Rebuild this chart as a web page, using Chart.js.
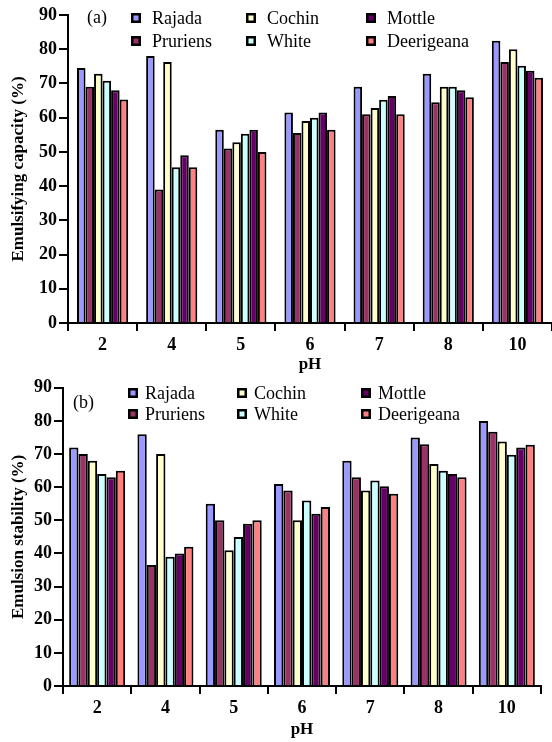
<!DOCTYPE html>
<html>
<head>
<meta charset="utf-8">
<script src="https://cdn.jsdelivr.net/npm/chart.js@4"></script>
<style>
  body { margin: 0; background: #fff; }
  .box { position: relative; width: 552px; }
  canvas { display: block; }
</style>
</head>
<body>
<div class="box"><canvas id="chartA" width="552" height="375"></canvas></div>
<div class="box"><canvas id="chartB" width="552" height="367"></canvas></div>
<script>
const phLabels = ['2', '4', '5', '6', '7', '8', '10'];
const varieties = ['Rajada', 'Pruriens', 'Cochin', 'White', 'Mottle', 'Deerigeana'];
const colors = ['#9999ff', '#993366', '#ffffcc', '#ccffff', '#660066', '#ff8080'];

// (a) emulsifying capacity (%)
const capRajada     = [74.5, 78, 56.5, 61.5, 69, 72.8, 82.5];
const capPruriens   = [69, 39, 51, 55.5, 61, 64.5, 76.3];
const capCochin     = [72.8, 76.3, 52.8, 59, 62.8, 69, 80];
const capWhite      = [70.8, 45.5, 55.3, 60, 65.2, 69, 75.2];
const capMottle     = [68, 49, 56.5, 61.5, 66.3, 68, 73.7];
const capDeerigeana = [65.3, 45.5, 50, 56.5, 61, 66, 71.7];

// (b) emulsion stability (%)
const stabRajada     = [72, 76, 55, 61, 68, 75, 80];
const stabPruriens   = [70, 36.5, 50, 59, 63, 73, 76.7];
const stabCochin     = [68, 70, 41, 50, 59, 67, 73.8];
const stabWhite      = [64, 39, 45, 56, 62, 65, 69.8];
const stabMottle     = [63, 40, 49, 52, 60.3, 64, 72];
const stabDeerigeana = [65, 42, 50, 54, 58, 63, 72.8];

const yTicks = [0, 10, 20, 30, 40, 50, 60, 70, 80, 90];

const FONT = '"Liberation Serif", "Times New Roman", serif';

// legend drawn in 3 columns x 2 rows, like the original
const serifLegend = {
  id: 'serifLegend',
  afterDraw(chart, args, opts) {
    const ctx = chart.ctx;
    ctx.save();
    ctx.font = '18px ' + FONT;
    ctx.textBaseline = 'middle';
    ctx.fillStyle = '#000';
    ctx.fillText(opts.tag, opts.tagX, opts.tagY);
    chart.data.datasets.forEach((ds, i) => {
      const col = Math.floor(i / 2), row = i % 2;
      const x = opts.cols[col], y = opts.rows[row];
      ctx.fillStyle = '#000';
      ctx.fillRect(x, y - 5, 10, 10);
      ctx.fillStyle = ds.backgroundColor;
      ctx.fillRect(x + 2.5, y - 2.5, 5, 5);
      ctx.fillStyle = '#000';
      ctx.fillText(ds.label, x + opts.textGap, y + 1);
    });
    ctx.restore();
  }
};

function makeChart(id, series, cfg) {
  return new Chart(document.getElementById(id), {
    type: 'bar',
    data: {
      labels: phLabels,
      datasets: varieties.map((name, i) => ({
        label: name,
        data: series[i],
        backgroundColor: colors[i],
        borderColor: '#000',
        borderWidth: 2,
        borderSkipped: 'bottom',
        barPercentage: 1.0,
        categoryPercentage: cfg.catPct
      }))
    },
    options: {
      responsive: false,
      animation: false,
      layout: { padding: { top: cfg.padTop, right: cfg.padRight, left: 0, bottom: 0 } },
      plugins: {
        legend: { display: false },
        tooltip: { enabled: false },
        serifLegend: cfg.legend
      },
      scales: {
        x: {
          grid: { display: true, drawOnChartArea: false, drawTicks: true, tickLength: 8, color: '#000', lineWidth: 2, offset: true },
          border: { display: true, color: '#000', width: 2 },
          ticks: { color: '#000', padding: 4, font: { family: FONT, size: 18, weight: 'bold' } },
          title: { display: true, text: 'pH', color: '#000', padding: { top: 0, bottom: cfg.phPad }, font: { family: FONT, size: 17, weight: 'bold' } },
          afterFit: s => { s.height = cfg.xHeight; }
        },
        y: {
          min: 0,
          max: 90,
          afterBuildTicks: s => { s.ticks = yTicks.map(v => ({ value: v })); },
          grid: { display: true, drawOnChartArea: false, drawTicks: true, tickLength: 9, color: '#000', lineWidth: 2 },
          border: { display: true, color: '#000', width: 2 },
          ticks: { color: '#000', padding: 2, font: { family: FONT, size: 18, weight: 'bold' } },
          title: { display: true, text: cfg.yTitle, color: '#000', padding: { top: 8, bottom: 0 }, font: { family: FONT, size: 17, weight: 'bold' } },
          afterFit: s => { s.width = cfg.yWidth; }
        }
      }
    },
    plugins: [serifLegend]
  });
}

makeChart('chartA',
  [capRajada, capPruriens, capCochin, capWhite, capMottle, capDeerigeana],
  {
    catPct: 0.74, padTop: 15, padRight: 0, xHeight: 52, yWidth: 68, phPad: 0,
    yTitle: 'Emulsifying capacity (%)',
    legend: { tag: '(a)', tagX: 87, tagY: 18, cols: [131, 246, 366], rows: [18, 41], textGap: 21 }
  });

makeChart('chartB',
  [stabRajada, stabPruriens, stabCochin, stabWhite, stabMottle, stabDeerigeana],
  {
    catPct: 0.82, padTop: 10, padRight: 11, xHeight: 56, yWidth: 63, phPad: 2,
    yTitle: 'Emulsion stability (%)',
    legend: { tag: '(b)', tagX: 73, tagY: 28, cols: [128, 237, 361], rows: [18, 39], textGap: 17 }
  });
</script>
</body>
</html>
